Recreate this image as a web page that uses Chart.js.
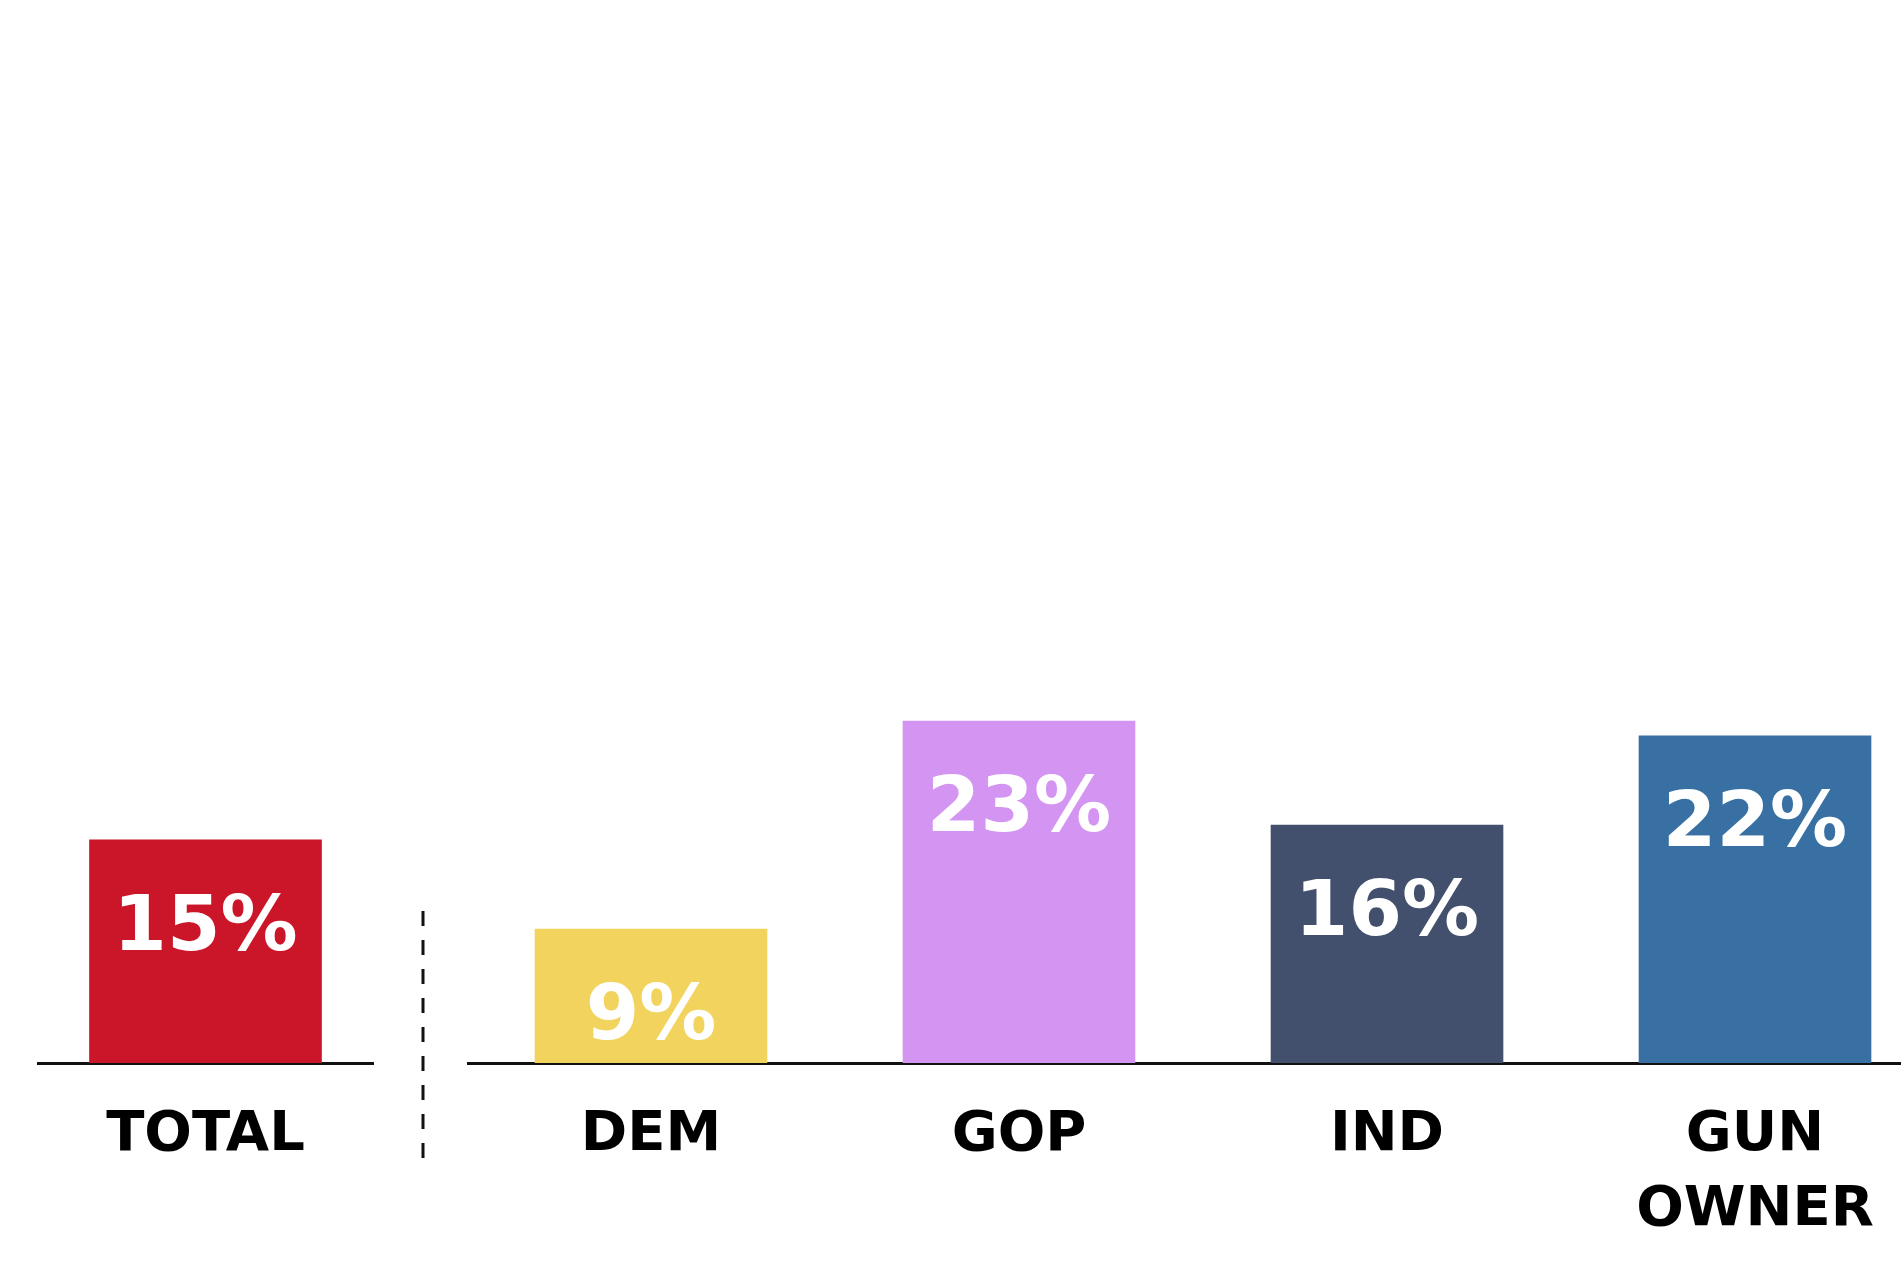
<!DOCTYPE html>
<html>
<head>
<meta charset="utf-8">
<script src="https://cdn.jsdelivr.net/npm/chart.js@4.4.0/dist/chart.umd.min.js"></script>
<style>
    html, body { margin: 0; padding: 0; background: #fff; overflow: hidden; }
    #wrap { position: relative; width: 1901px; height: 1270px; overflow: hidden; }
    canvas { position: absolute; top: 0; }
    #totalChart { left: 0; }
    #groupChart { left: 467px; }
</style>
</head>
<body>
<div id="wrap">
    <canvas id="totalChart" width="467" height="1270"></canvas>
    <canvas id="groupChart" width="1472" height="1270"></canvas>
</div>
<script>
// share who said yes, overall and by group
const totalLabels = ['TOTAL'];
const totalValues = [15];
const totalColors = ['#CB1629'];

const groupLabels = ['DEM', 'GOP', 'IND', ['GUN', 'OWNER']];
const groupValues = [9, 23, 16, 22];
const groupColors = ['#F2D35E', '#D494F1', '#42506D', '#3970A3'];

const FONT = '"DejaVu Sans", sans-serif';

// white percentage printed inside the top of each bar
const valueLabels = {
    id: 'valueLabels',
    afterDatasetsDraw(chart) {
        const ctx = chart.ctx;
        const values = chart.data.datasets[0].data;
        ctx.save();
        ctx.fillStyle = '#fff';
        ctx.font = 'bold 77px ' + FONT;
        ctx.textAlign = 'center';
        ctx.textBaseline = 'alphabetic';
        chart.getDatasetMeta(0).data.forEach((bar, i) => {
            ctx.fillText(values[i] + '%', bar.x, bar.y + 110);
        });
        ctx.restore();
    }
};

// dashed divider between the total and the groups
const divider = {
    id: 'divider',
    afterDraw(chart) {
        const ctx = chart.ctx;
        const area = chart.chartArea;
        const x = area.right + 50;
        ctx.save();
        ctx.strokeStyle = '#111';
        ctx.lineWidth = 3;
        ctx.setLineDash([15, 14]);
        ctx.beginPath();
        ctx.moveTo(x, area.bottom - 152);
        ctx.lineTo(x, area.bottom + 97);
        ctx.stroke();
        ctx.restore();
    }
};

function makeChart(id, labels, values, colors, padding, extraPlugins) {
    const ctx = document.getElementById(id).getContext('2d');
    return new Chart(ctx, {
        type: 'bar',
        data: {
            labels: labels,
            datasets: [{
                data: values,
                backgroundColor: colors,
                borderWidth: 0,
                barThickness: 232
            }]
        },
        options: {
            responsive: false,
            animation: false,
            devicePixelRatio: 1,
            layout: { padding: padding },
            plugins: {
                legend: { display: false },
                tooltip: { enabled: false }
            },
            scales: {
                x: {
                    z: 1,
                    grid: { display: false, drawTicks: false },
                    border: { display: true, color: '#111', width: 3 },
                    ticks: {
                        color: '#000',
                        padding: 35,
                        autoSkip: false,
                        maxRotation: 0,
                        minRotation: 0,
                        font: { family: FONT, weight: 'bold', size: 56, lineHeight: 1.34 }
                    },
                    afterFit: scale => { scale.height = 207; }
                },
                y: {
                    display: false,
                    min: 0,
                    max: 70
                }
            }
        },
        plugins: [valueLabels].concat(extraPlugins)
    });
}

makeChart('totalChart', totalLabels, totalValues, totalColors,
    { top: 22, left: 38, right: 94, bottom: 0 }, [divider]);
makeChart('groupChart', groupLabels, groupValues, groupColors,
    { top: 22, left: 0, right: 0, bottom: 0 }, []);
</script>
</body>
</html>
